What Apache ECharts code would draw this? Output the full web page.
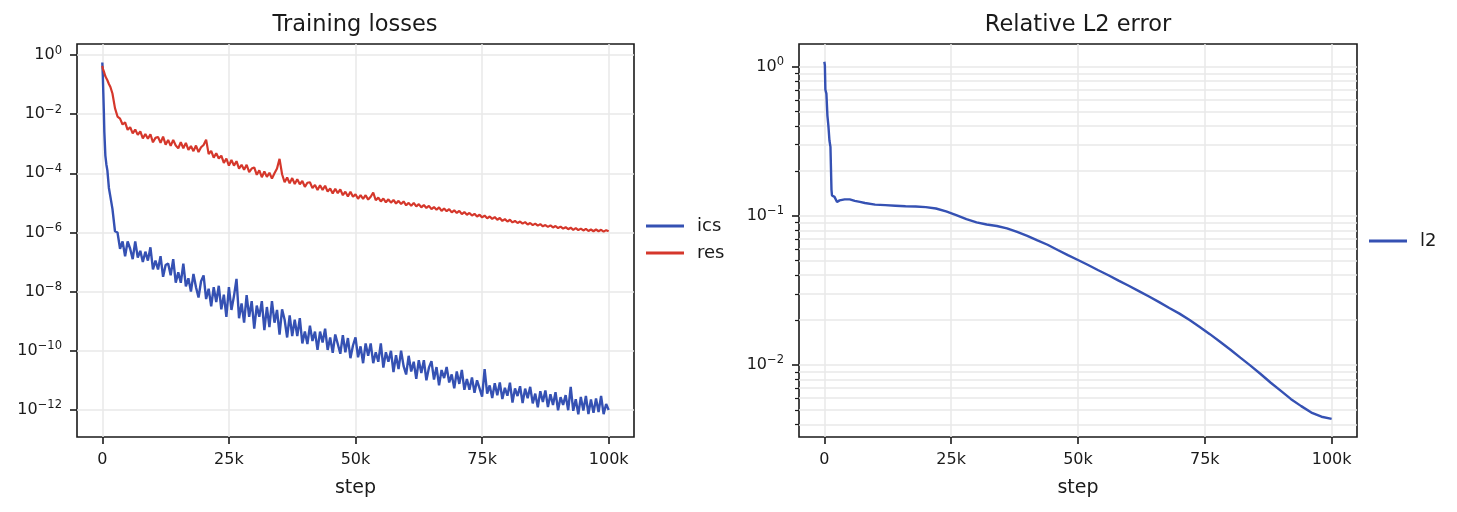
<!DOCTYPE html>
<html>
<head>
<meta charset="utf-8">
<script src="https://cdn.jsdelivr.net/npm/echarts@6.0.0/dist/echarts.min.js"></script>
<style>
  html, body { margin: 0; padding: 0; background: #fff; }
  #chart { width: 1457px; height: 512px; }
</style>
</head>
<body>
<div id="chart"></div>
<script>
// ---- data ----
const earlySteps = [0, 100, 200, 300, 400, 600, 800, 1000, 1300, 1600, 2000, 2500];
// after the first 2.5k steps the losses are logged every 500 steps
const regularSteps = Array.from({ length: 195 }, (_, i) => 3000 + i * 500);
const lossSteps = earlySteps.concat(regularSteps);

const icsLoss = [
  0.56, 0.2, 0.05, 0.0126, 2.5e-3, 4e-4, 2e-4, 1.26e-4, 3.2e-5, 1.6e-5, 6.3e-6, 1.1e-6,
  1e-6, 2.82e-7, 5e-7, 1.58e-7, 5e-7, 2.82e-7, 1.26e-7, 5e-7, 1.41e-7, 2.4e-7,
  1e-7, 2.24e-7, 1.12e-7, 3.16e-7, 5.62e-8, 1.12e-7, 5.62e-8, 1.58e-7, 3.16e-8, 7.94e-8,
  8.91e-8, 3.55e-8, 1.26e-7, 2e-8, 4.47e-8, 2e-8, 8.91e-8, 1.51e-8, 2.82e-8, 1e-8,
  3.98e-8, 1.41e-8, 6.31e-9, 2.24e-8, 3.55e-8, 5.62e-9, 1.26e-8, 3.16e-9, 1.41e-8, 4.47e-9,
  1.58e-8, 2.51e-9, 7.94e-9, 1.41e-9, 1.41e-8, 2.4e-9, 7.08e-9, 2.69e-8, 1.26e-9, 3.98e-9,
  8.91e-10, 7.59e-9, 1.41e-9, 4.79e-9, 5.62e-10, 3.39e-9, 1.41e-9, 4.79e-9, 5.01e-10, 3.02e-9,
  6.31e-10, 4.79e-9, 8.91e-10, 2.4e-9, 3.55e-10, 2.51e-9, 1.12e-9, 2.82e-10, 1.58e-9, 3.16e-10,
  1.12e-9, 3.16e-10, 1.26e-9, 1.78e-10, 4.47e-10, 1.7e-10, 7.08e-10, 2.14e-10, 4.47e-10, 1.07e-10,
  4.47e-10, 1.91e-10, 5.62e-10, 1.07e-10, 2.82e-10, 8.51e-11, 3.55e-10, 1.7e-10, 7.94e-11, 3.39e-10,
  8.91e-11, 2.69e-10, 5.62e-11, 1.51e-10, 2.82e-10, 6.03e-11, 1.41e-10, 3.8e-11, 1.78e-10, 6.76e-11,
  1.78e-10, 3.8e-11, 8.91e-11, 4.27e-11, 1.78e-10, 2.69e-11, 8.91e-11, 4.27e-11, 1e-10, 1.91e-11,
  7.08e-11, 2.4e-11, 1e-10, 3.02e-11, 1.58e-11, 6.76e-11, 2e-11, 4.27e-11, 1.12e-11, 4.79e-11,
  1.78e-11, 4.79e-11, 1e-11, 2.69e-11, 4.47e-11, 1.07e-11, 2.82e-11, 6.76e-12, 2.24e-11, 1.2e-11,
  2.82e-11, 8.51e-12, 1.58e-11, 5.37e-12, 2e-11, 7.59e-12, 2.24e-11, 4.79e-12, 1.12e-11, 4.79e-12,
  1.26e-11, 3.8e-12, 1e-11, 5.37e-12, 2.82e-12, 2.4e-11, 3.55e-12, 6.76e-12, 2.51e-12, 7.94e-12,
  3.16e-12, 8.51e-12, 2.34e-12, 5.62e-12, 3.02e-12, 8.32e-12, 1.78e-12, 5.37e-12, 2.95e-12, 6.31e-12,
  1.7e-12, 5.25e-12, 2.51e-12, 6.03e-12, 1.66e-12, 3.55e-12, 1.23e-12, 4.27e-12, 1.86e-12, 4.57e-12,
  1.26e-12, 3.39e-12, 1.48e-12, 3.98e-12, 9.77e-13, 2.69e-12, 1.48e-12, 3.16e-12, 9.77e-13, 6.03e-12,
  9.33e-13, 2.29e-12, 7.08e-13, 2.75e-12, 9.55e-13, 2.95e-12, 7.24e-13, 2.24e-12, 7.94e-13, 2.45e-12,
  8.51e-13, 2.95e-12, 7.24e-13, 1.58e-12, 1e-12
];

const resLoss = [
  0.43, 0.35, 0.3, 0.28, 0.24, 0.19, 0.18, 0.14, 0.105, 0.083, 0.05, 0.016,
  8.32e-3, 7.08e-3, 4.47e-3, 5.25e-3, 2.95e-3, 3.63e-3, 2.24e-3, 3.02e-3, 2e-3, 2.63e-3,
  1.51e-3, 2.14e-3, 1.48e-3, 2.09e-3, 1.12e-3, 1.58e-3, 1.7e-3, 1.07e-3, 1.74e-3, 9.33e-4,
  1.35e-3, 8.51e-4, 1.35e-3, 8.71e-4, 7.08e-4, 1.12e-3, 7.08e-4, 1.07e-3, 6.17e-4, 8.32e-4,
  5.62e-4, 8.71e-4, 5.25e-4, 7.59e-4, 9.12e-4, 1.38e-3, 4.47e-4, 5.75e-4, 3.39e-4, 4.79e-4,
  3.16e-4, 3.98e-4, 2.24e-4, 3.16e-4, 1.82e-4, 2.82e-4, 1.82e-4, 2.57e-4, 1.45e-4, 1.95e-4,
  1.32e-4, 1.95e-4, 1.1e-4, 1.45e-4, 1.58e-4, 8.91e-5, 1.26e-4, 7.41e-5, 1.15e-4, 7.59e-5,
  1.05e-4, 6.61e-5, 1e-4, 1.45e-4, 3.09e-4, 9.33e-5, 5.01e-5, 7.24e-5, 4.57e-5, 6.92e-5,
  4.37e-5, 6.31e-5, 4.27e-5, 5.5e-5, 3.47e-5, 4.79e-5, 5.01e-5, 3.16e-5, 4.07e-5, 2.75e-5,
  3.98e-5, 2.75e-5, 3.8e-5, 2.4e-5, 3.09e-5, 2.09e-5, 3.02e-5, 2.14e-5, 2.88e-5, 1.82e-5,
  2.4e-5, 1.66e-5, 2.4e-5, 1.62e-5, 1.95e-5, 1.38e-5, 1.82e-5, 1.38e-5, 1.82e-5, 1.29e-5,
  1.62e-5, 2.24e-5, 1.23e-5, 1.51e-5, 1.12e-5, 1.41e-5, 1.05e-5, 1.32e-5, 1.02e-5, 1.26e-5,
  9.55e-6, 1.17e-5, 9.12e-6, 1.12e-5, 8.32e-6, 1e-5, 7.94e-6, 1e-5, 7.59e-6, 9.12e-6,
  7.08e-6, 8.51e-6, 6.76e-6, 7.94e-6, 6.17e-6, 7.24e-6, 5.89e-6, 7.08e-6, 5.37e-6, 6.46e-6,
  5.25e-6, 6.17e-6, 4.79e-6, 5.62e-6, 4.57e-6, 5.37e-6, 4.17e-6, 4.9e-6, 3.98e-6, 4.57e-6,
  3.72e-6, 4.27e-6, 3.47e-6, 3.98e-6, 3.24e-6, 3.72e-6, 3.02e-6, 3.47e-6, 2.88e-6, 3.31e-6,
  2.69e-6, 3.09e-6, 2.45e-6, 2.82e-6, 2.34e-6, 2.69e-6, 2.19e-6, 2.45e-6, 2.09e-6, 2.34e-6,
  2e-6, 2.24e-6, 1.86e-6, 2.09e-6, 1.78e-6, 2e-6, 1.7e-6, 1.91e-6, 1.62e-6, 1.78e-6,
  1.55e-6, 1.74e-6, 1.48e-6, 1.66e-6, 1.41e-6, 1.58e-6, 1.35e-6, 1.51e-6, 1.29e-6, 1.45e-6,
  1.23e-6, 1.41e-6, 1.2e-6, 1.35e-6, 1.17e-6, 1.32e-6, 1.12e-6, 1.26e-6, 1.1e-6, 1.26e-6,
  1.1e-6, 1.23e-6, 1.07e-6, 1.2e-6, 1.1e-6
];

const l2Steps = [
  0, 100, 200, 400, 600, 800, 1000, 1200, 1400, 1500, 2000, 2500, 3000, 4000, 5000,
  6000, 7000, 8000, 10000, 12000, 14000, 16000, 18000, 20000, 22000, 24000, 26000,
  28000, 30000, 32000, 34000, 36000, 38000, 40000, 42000, 44000, 46000, 48000, 50000,
  52000, 54000, 56000, 58000, 60000, 62000, 64000, 66000, 68000, 70000, 72000, 74000,
  76000, 78000, 80000, 82000, 84000, 86000, 88000, 90000, 92000, 94000, 96000, 98000, 100000
];
const l2Error = [
  1.08, 1.02, 0.70, 0.66, 0.47, 0.40, 0.32, 0.29, 0.15, 0.137, 0.134, 0.124, 0.127, 0.129, 0.129,
  0.126, 0.124, 0.122, 0.119, 0.118, 0.117, 0.116, 0.1155, 0.1145, 0.112, 0.107, 0.101,
  0.095, 0.0905, 0.0875, 0.0855, 0.0825, 0.078, 0.0735, 0.0685, 0.064, 0.059, 0.0545, 0.0506,
  0.0468, 0.0432, 0.040, 0.0368, 0.034, 0.0313, 0.0288, 0.0264, 0.0241, 0.0221, 0.020, 0.018,
  0.0161, 0.0143, 0.0127, 0.0112, 0.0099, 0.0087, 0.0076, 0.0067, 0.0059, 0.0053, 0.0048, 0.0045, 0.00435
];

const stepTicks = [0, 25000, 50000, 75000, 100000];
const lossTicks = [1e-12, 1e-10, 1e-8, 1e-6, 1e-4, 1e-2, 1];
const l2MajorTicks = [0.01, 0.1, 1];
const l2MinorTicks = [0.004, 0.005, 0.006, 0.007, 0.008, 0.009,
  0.02, 0.03, 0.04, 0.05, 0.06, 0.07, 0.08, 0.09,
  0.2, 0.3, 0.4, 0.5, 0.6, 0.7, 0.8, 0.9];

// axis limits as drawn (matplotlib margins)
const stepRange = [-5000, 105000];
const lossRange = [1.216e-13, 2.36];
const l2Range = [0.00329, 1.42];

// ---- styling ----
const FONT = 'DejaVu Sans';
const INK = '#1a1a1a';
const GRID = '#e8e8e8';
const BLUE = '#3551b3';
const RED = '#d5372b';

const powLabel = (v) => {
  const e = Math.round(Math.log10(v));
  return '{b|10}{e|' + (e < 0 ? '\u2212' + (-e) : String(e)) + '}';
};
const powRich = {
  b: { fontFamily: FONT, fontSize: 16, color: INK, lineHeight: 21 },
  e: { fontFamily: FONT, fontSize: 11.5, color: INK, verticalAlign: 'top', lineHeight: 13 }
};

const stepAxis = (gridIndex) => ({
  type: 'value',
  gridIndex,
  min: stepRange[0],
  max: stepRange[1],
  name: 'step',
  nameLocation: 'middle',
  nameGap: 42,
  nameTextStyle: { fontFamily: FONT, fontSize: 19, color: INK },
  axisLine: { show: false, onZero: false },
  axisTick: { show: true, customValues: stepTicks, length: 7, lineStyle: { color: INK, width: 1.6 } },
  axisLabel: {
    customValues: stepTicks,
    margin: 15,
    fontFamily: FONT, fontSize: 16, color: INK,
    formatter: (v) => (v === 0 ? '0' : v / 1000 + 'k')
  },
  splitLine: { show: true, lineStyle: { color: GRID, width: 1.5 } }
});

const logAxis = (gridIndex, range, ticks, opts) => Object.assign({
  type: 'log',
  logBase: 10,
  gridIndex,
  position: 'left',
  min: range[0],
  max: range[1],
  axisLine: { show: false, onZero: false },
  axisTick: { show: true, customValues: ticks, length: 7, lineStyle: { color: INK, width: 1.6 } },
  axisLabel: { customValues: ticks, margin: 15, formatter: powLabel, rich: powRich },
  splitLine: { show: true, lineStyle: { color: GRID, width: 1.5 } },
  minorTick: { show: false },
  minorSplitLine: { show: false }
}, opts || {});

const chart = echarts.init(document.getElementById('chart'), null, { renderer: 'canvas' });

chart.setOption({
  animation: false,
  backgroundColor: '#fff',
  title: [
    { text: 'Training losses', left: 355, top: 14, textAlign: 'center', padding: 0,
      textStyle: { fontFamily: FONT, fontSize: 22.5, fontWeight: 'normal', color: INK } },
    { text: 'Relative L2 error', left: 1078, top: 14, textAlign: 'center', padding: 0,
      textStyle: { fontFamily: FONT, fontSize: 22.5, fontWeight: 'normal', color: INK } }
  ],
  legend: [
    { data: ['ics', 'res'], orient: 'vertical', left: 646, top: 217, padding: 0,
      icon: 'rect', itemWidth: 38, itemHeight: 3, itemGap: 9,
      textStyle: { fontFamily: FONT, fontSize: 18, color: INK, padding: [0, 0, 0, 8] } },
    { data: ['l2'], orient: 'vertical', left: 1369, top: 232, padding: 0,
      icon: 'rect', itemWidth: 38, itemHeight: 3,
      textStyle: { fontFamily: FONT, fontSize: 18, color: INK, padding: [0, 0, 0, 8] } }
  ],
  grid: [
    { left: 77, top: 44, width: 557, height: 393, show: true, borderColor: INK, borderWidth: 1.6, backgroundColor: 'transparent' },
    { left: 799, top: 44, width: 558, height: 393, show: true, borderColor: INK, borderWidth: 1.6, backgroundColor: 'transparent' }
  ],
  xAxis: [stepAxis(0), stepAxis(1)],
  yAxis: [
    logAxis(0, lossRange, lossTicks),
    logAxis(1, l2Range, l2MajorTicks),
    // minor decade ticks + minor grid on the L2 panel
    logAxis(1, l2Range, l2MinorTicks, {
      axisTick: { show: true, customValues: l2MinorTicks, length: 4, lineStyle: { color: INK, width: 1.2 } },
      axisLabel: { show: false }
    })
  ],
  series: [
    { name: 'ics', type: 'line', xAxisIndex: 0, yAxisIndex: 0, showSymbol: false, symbol: 'none',
      lineStyle: { color: BLUE, width: 2.4 }, itemStyle: { color: BLUE },
      data: lossSteps.map((s, i) => [s, icsLoss[i]]) },
    { name: 'res', type: 'line', xAxisIndex: 0, yAxisIndex: 0, showSymbol: false, symbol: 'none',
      lineStyle: { color: RED, width: 2.2 }, itemStyle: { color: RED },
      data: lossSteps.map((s, i) => [s, resLoss[i]]) },
    { name: 'l2', type: 'line', xAxisIndex: 1, yAxisIndex: 1, showSymbol: false, symbol: 'none',
      lineStyle: { color: BLUE, width: 2.4 }, itemStyle: { color: BLUE },
      data: l2Steps.map((s, i) => [s, l2Error[i]]) }
  ]
});
</script>
</body>
</html>
